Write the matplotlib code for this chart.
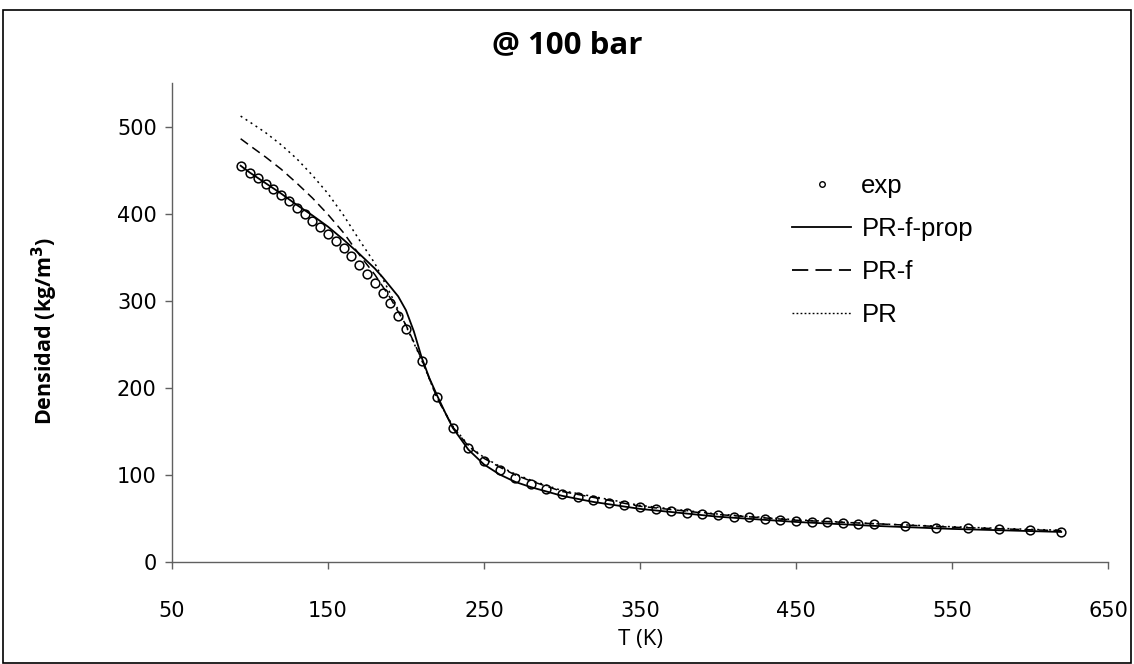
import matplotlib
matplotlib.use("Agg")
import matplotlib.pyplot as plt
from matplotlib.patches import Rectangle
from matplotlib.lines import Line2D

# ---------------- data ----------------
exp_T = [94, 100, 105, 110, 115, 120, 125, 130, 135, 140, 145, 150, 155, 160, 165,
         170, 175, 180, 185, 190, 195, 200, 210, 220, 230, 240, 250, 260, 270, 280,
         290, 300, 310, 320, 330, 340, 350, 360, 370, 380, 390, 400, 410, 420, 430,
         440, 450, 460, 470, 480, 490, 500, 520, 540, 560, 580, 600, 620]
exp_rho = [455, 447, 441, 434, 428, 421, 414, 407, 400, 392, 385, 377, 369, 360, 351,
           341, 331, 320, 309, 297, 283, 267, 231, 189, 154, 131, 116, 105.5, 96.5, 89.5,
           83.5, 78.5, 74.1, 70.8, 68.0, 65.4, 62.6, 60.3, 58.8, 56.6, 55.2, 53.7, 52.2, 51.1, 49.7,
           48.6, 47.2, 46.4, 45.7, 44.9, 43.8, 43.1, 40.9, 39.4, 38.5, 37.5, 36.4, 35.0]

prop_T = [94, 100, 110, 120, 130, 140, 150, 160, 170, 180, 185, 190, 195, 200, 205,
          210, 215, 220, 225, 230, 240, 250, 260, 270, 280, 290, 300, 320, 350, 400,
          450, 500, 550, 600, 620]
prop_rho = [455, 447, 435, 423, 410, 398, 385, 370, 354, 337, 327, 316, 305, 289, 265,
            235, 211, 191, 172, 154, 129, 112, 100.5, 92, 86, 81, 76, 69, 61, 52,
            46, 41.5, 38, 35.5, 34.5]

prf_T = [94, 100, 110, 120, 130, 140, 150, 160, 170, 180, 190, 200, 210, 220, 230,
         240, 250, 260, 270, 280, 300, 350, 400, 450, 500, 550, 600, 620]
prf_rho = [486, 478, 465, 451, 435, 418, 399, 378, 353, 330, 303, 272, 233, 188, 155,
           133, 119, 109, 100, 93, 81, 64, 54.5, 48, 44, 40, 37, 36]

pr_T = [94, 100, 110, 120, 130, 140, 150, 160, 170, 180, 190, 200, 210, 220, 230,
        240, 250, 260, 270, 280, 300, 350, 400, 450, 500, 550, 600, 620]
pr_rho = [512, 505, 493, 479, 463, 444, 423, 398, 370, 343, 308, 271, 232, 188, 156,
          134, 120, 110, 101, 94, 82, 65, 55, 48.5, 44, 40.5, 37.5, 36.5]

x_ticks = [50, 150, 250, 350, 450, 550, 650]
y_ticks = [0, 100, 200, 300, 400, 500]

title = "@ 100 bar"
xlabel = "T (K)"
ylabel = "Densidad (kg/m$^\\mathbf{3}$)"

# ---------------- figure ----------------
W, H = 1134, 664
fig = plt.figure(figsize=(W / 100, H / 100), dpi=100)
fig.patch.set_facecolor("white")

# outer frame
fig.add_artist(Rectangle((3 / W, 1 - 663 / H), 1128 / W, 653 / H,
                         transform=fig.transFigure, fill=False,
                         edgecolor="black", linewidth=1.2))

ax = fig.add_axes([172 / W, 1 - 562 / H, (1108 - 172) / W, (562 - 83) / H])

ax.plot(prop_T, prop_rho, color="black", lw=1.3, ls="-", zorder=3)
ax.plot(prf_T, prf_rho, color="black", lw=1.1, ls=(0, (6, 3.5)), zorder=3)
ax.plot(pr_T, pr_rho, color="black", lw=1.1, ls=(0, (1.3, 2.6)), zorder=3)
ax.plot(exp_T, exp_rho, ls="none", marker="o", ms=6.3, mfc="none", mec="black",
        mew=1.1, zorder=4)

ax.set_xlim(50, 650)
ax.set_ylim(0, 550)
ax.set_xticks(x_ticks)
ax.set_yticks(y_ticks)
ax.tick_params(axis="both", direction="out", length=5, width=1, color="#606060",
               labelsize=15, pad=6)
ax.tick_params(axis="x", pad=23)
for s in ["top", "right"]:
    ax.spines[s].set_visible(False)
for s in ["left", "bottom"]:
    ax.spines[s].set_color("#606060")
    ax.spines[s].set_linewidth(1.0)

fig.text(0.5, 1 - 45 / H, title, ha="center", va="center", fontsize=22.5,
         fontweight="bold", family=["Open Sans", "DejaVu Sans"])
fig.text(640 / W, 1 - 640 / H, xlabel, ha="center", va="center", fontsize=16,
         family=["Open Sans", "DejaVu Sans"])
fig.text(45 / W, 1 - 331 / H, ylabel, ha="center", va="center", fontsize=15.5,
         rotation=90, fontweight="bold", family=["Open Sans", "DejaVu Sans"])

handles = [
    Line2D([], [], ls="none", marker="o", ms=4, mfc="none", mec="black", mew=1),
    Line2D([], [], color="black", lw=1.3),
    Line2D([], [], color="black", lw=1.3, ls=(0, (9, 4))),
    Line2D([], [], color="black", lw=1.0, ls=(0, (1.3, 1.6))),
]
labels = ["exp", "PR-f-prop", "PR-f", "PR"]
leg = ax.legend(handles, labels, loc="upper left",
                bbox_to_anchor=(792 / W, 1 - 174 / H), bbox_transform=fig.transFigure,
                frameon=False, handlelength=2.3, handletextpad=0.4,
                labelspacing=0.74, borderaxespad=0, borderpad=0,
                prop={"family": ["Liberation Sans", "DejaVu Sans"], "size": 18.5})

fig.savefig("out.png", dpi=100, facecolor="white")
